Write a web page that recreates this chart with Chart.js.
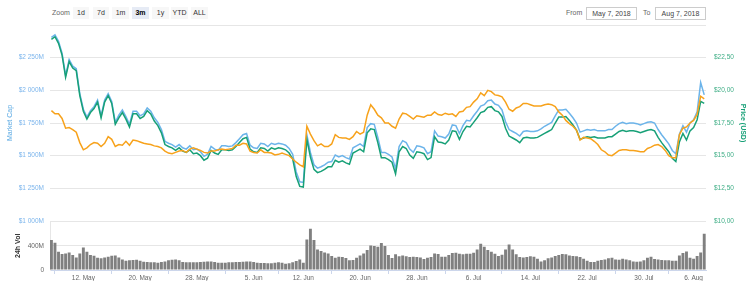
<!DOCTYPE html>
<html lang="en">
<head>
    <meta charset="UTF-8">
    <title>Market Cap / Price / 24h Vol</title>
    <style>
        body {
            margin: 0;
            background: #ffffff;
            font-family: "Liberation Sans", Arial, sans-serif;
        }
        #wrap {
            position: relative;
            width: 750px;
            height: 281px;
            overflow: hidden;
        }
        #wrap canvas {
            position: absolute;
            left: 0;
        }
        .lbl {
            position: absolute;
            top: 7px;
            height: 12px;
            line-height: 12px;
            font-size: 7px;
            color: #666;
        }
        .btn {
            position: absolute;
            top: 7px;
            height: 12px;
            line-height: 12px;
            font-size: 7px;
            color: #333;
            background: #f7f7f7;
            text-align: center;
        }
        .btn.on {
            background: #e6ebf5;
            color: #000;
            font-weight: bold;
        }
        .date {
            position: absolute;
            top: 7px;
            height: 11px;
            line-height: 11px;
            font-size: 7px;
            color: #444;
            border: 1px solid #cccccc;
            text-align: center;
        }
    </style>
    <script src="https://cdn.jsdelivr.net/npm/chart.js"></script>
</head>
<body>
<div id="wrap">
    <div class="lbl" style="left:52px">Zoom</div>
    <div class="btn" style="left:73px;width:16px">1d</div>
    <div class="btn" style="left:93px;width:16px">7d</div>
    <div class="btn" style="left:112px;width:17px">1m</div>
    <div class="btn on" style="left:132px;width:17px">3m</div>
    <div class="btn" style="left:152px;width:17px">1y</div>
    <div class="btn" style="left:171px;width:17px">YTD</div>
    <div class="btn" style="left:191px;width:17px">ALL</div>
    <div class="lbl" style="left:566px">From</div>
    <div class="date" style="left:586px;width:49px">May 7, 2018</div>
    <div class="lbl" style="left:643px">To</div>
    <div class="date" style="left:655px;width:49px">Aug 7, 2018</div>

    <canvas id="mainChart" width="750" height="226" style="top:0"></canvas>
    <canvas id="volChart" width="750" height="65" style="top:216px"></canvas>
</div>

<script>
    // one sample every half day, first sample 0.5 day after May 7, 2018
    var firstDay = 0.5;
    var stepDay = 0.5;

    // Price (USD)
    var priceUsd = [
        23.9, 24.1, 23.6, 22.7, 21.0, 22.2, 21.7, 21.5, 19.6, 18.4,
        17.8, 18.3, 18.6, 19.1, 17.9, 19.1, 19.6, 19.0, 17.4, 17.9,
        18.3, 17.8, 17.2, 18.2, 18.2, 17.85, 18.0, 18.45, 18.2, 17.65,
        17.3, 16.75, 15.85, 15.7, 15.6, 15.4, 15.6, 15.35, 15.25, 15.45,
        15.15, 15.2, 15.0, 14.65, 14.8, 15.4, 15.2, 15.1, 15.45, 15.45,
        15.4, 15.45, 15.7, 16.0, 16.3, 16.4, 15.5, 15.3, 15.25, 15.6,
        15.55, 15.35, 15.6, 15.5, 15.6, 15.55, 15.45, 15.2, 14.75, 13.4,
        12.65, 12.6, 16.25, 14.9, 13.95, 13.7, 13.8, 13.95, 14.15, 14.15,
        14.65, 14.5, 14.6, 14.45, 14.35, 15.2, 15.35, 15.5, 15.3, 16.75,
        17.05, 17.0, 16.0, 14.85, 14.85, 14.7, 14.5, 13.6, 15.3, 15.7,
        15.55, 15.05, 14.8, 15.3, 15.25, 15.15, 14.7, 14.85, 16.45, 16.05,
        16.0, 15.9, 16.2, 16.9, 16.85, 16.25, 16.85, 17.25, 17.2, 17.55,
        17.9, 18.3, 18.4, 18.7, 18.75, 18.45, 18.35, 18.0, 17.1, 16.5,
        16.35, 16.2, 16.0, 16.35, 16.4, 16.35, 16.35, 16.4, 16.55, 16.7,
        16.85, 17.0, 17.5, 17.95, 17.95, 18.0, 17.7, 17.35, 16.95, 16.25,
        16.35, 16.45, 16.4, 16.45, 16.35, 16.35, 16.35, 16.45, 16.45, 16.65,
        16.85, 16.95, 16.85, 16.9, 16.9, 16.85, 16.75, 16.85, 16.95, 17.0,
        16.9, 16.4, 16.0, 15.65, 15.3, 14.8, 14.55, 16.05, 16.7, 16.2,
        16.9, 17.15, 17.75, 19.15, 19.0
    ];

    // Market Cap ($M)
    var marketCap = [
        2405, 2425, 2375, 2285, 2115, 2235, 2185, 2165, 1975, 1855,
        1795, 1845, 1875, 1925, 1805, 1925, 1975, 1915, 1755, 1810,
        1850, 1800, 1740, 1840, 1840, 1805, 1820, 1865, 1840, 1790,
        1755, 1700, 1610, 1595, 1585, 1565, 1585, 1560, 1550, 1575,
        1545, 1550, 1530, 1495, 1510, 1570, 1550, 1540, 1575, 1575,
        1570, 1575, 1600, 1630, 1660, 1670, 1580, 1560, 1555, 1595,
        1590, 1570, 1595, 1585, 1595, 1590, 1580, 1555, 1510, 1375,
        1300, 1295, 1660, 1525, 1430, 1405, 1415, 1430, 1450, 1455,
        1505, 1490, 1500, 1485, 1475, 1560, 1575, 1590, 1570, 1715,
        1745, 1740, 1640, 1525, 1525, 1510, 1490, 1400, 1570, 1615,
        1600, 1550, 1525, 1575, 1570, 1560, 1515, 1530, 1690, 1650,
        1645, 1635, 1665, 1735, 1730, 1670, 1730, 1770, 1765, 1805,
        1840, 1880, 1890, 1920, 1925, 1895, 1885, 1850, 1760, 1700,
        1685, 1670, 1650, 1685, 1690, 1685, 1685, 1690, 1705, 1725,
        1740, 1755, 1805, 1850, 1850, 1855, 1825, 1790, 1750, 1680,
        1690, 1700, 1695, 1700, 1690, 1690, 1690, 1700, 1700, 1725,
        1745, 1755, 1745, 1750, 1750, 1745, 1735, 1745, 1755, 1760,
        1750, 1700, 1660, 1625, 1590, 1540, 1515, 1665, 1730, 1680,
        1750, 1775, 1835, 2060, 1965
    ];

    // Price (BTC), drawn on its own hidden axis
    var priceBtc = [
        18.45, 18.2, 18.2, 17.85, 17.1, 17.15, 17.0, 16.8, 16.0, 15.45,
        15.6, 15.85, 16.0, 15.95, 15.7, 15.95, 16.45, 16.25, 15.7, 15.85,
        15.8, 16.1, 15.8, 16.2, 16.15, 16.05, 15.95, 15.9, 15.85, 15.75,
        15.7, 15.6, 15.35, 15.2, 15.15, 15.25, 15.35, 15.4, 15.25, 15.5,
        15.6, 15.5, 15.4, 15.25, 15.2, 15.35, 15.35, 15.45, 15.5, 15.45,
        15.5, 15.55, 15.8, 15.8, 15.95, 15.9, 15.35, 15.25, 15.2, 15.45,
        15.25, 15.25, 15.2, 15.05, 15.1, 15.2, 15.1, 15.0, 14.75, 14.5,
        14.3, 14.15, 17.25, 16.65, 16.15, 15.75, 15.9, 15.7, 15.7, 15.9,
        16.6, 16.4, 16.35, 16.35, 16.25, 16.45, 16.85, 16.65, 16.8, 18.1,
        18.9, 18.55, 18.1, 17.9, 17.5, 17.5, 17.25, 17.1, 17.8, 18.25,
        18.2, 18.0, 17.8, 18.05, 18.0, 17.95, 18.1, 18.1, 18.35, 18.15,
        18.1, 18.25, 18.15, 18.2, 18.0, 18.35, 18.4, 18.7, 18.75, 19.1,
        19.35, 19.8, 19.6, 20.0, 19.9, 19.65, 19.6, 19.5, 19.1, 18.55,
        18.4, 18.65, 18.75, 19.0, 19.0, 18.9, 18.8, 18.8, 18.8, 18.9,
        18.95, 18.9, 18.75, 18.35, 18.1, 17.7, 17.45, 17.25, 16.95, 16.2,
        16.4, 16.35, 16.3, 16.1, 15.85, 15.45, 15.3, 15.05, 15.0, 15.2,
        15.4, 15.45, 15.45, 15.4, 15.4, 15.35, 15.3, 15.3, 15.55, 15.65,
        15.8, 15.85, 15.7, 15.4, 15.0, 14.85, 14.85, 16.6, 17.1, 17.2,
        17.5, 17.7, 18.15, 19.55, 19.35
    ];

    // 24h volume ($M)
    var volume = [
        493, 449, 301, 263, 274, 290, 247, 208, 274, 373,
        301, 247, 236, 203, 192, 208, 219, 236, 241, 208,
        175, 153, 159, 164, 170, 153, 137, 132, 126, 126,
        121, 132, 142, 159, 170, 175, 159, 132, 126, 126,
        126, 126, 132, 137, 142, 142, 132, 121, 121, 121,
        126, 126, 132, 132, 137, 142, 142, 132, 121, 115,
        115, 110, 110, 121, 126, 121, 104, 110, 126, 148,
        175, 121, 504, 680, 493, 340, 312, 290, 274, 230,
        203, 219, 214, 197, 159, 164, 203, 241, 274, 329,
        406, 395, 384, 444, 395, 247, 197, 258, 225, 241,
        225, 214, 219, 214, 208, 181, 203, 214, 274, 263,
        219, 219, 247, 279, 285, 269, 258, 269, 269, 285,
        340, 433, 384, 329, 301, 269, 230, 252, 340, 422,
        340, 258, 214, 208, 214, 225, 219, 186, 142, 159,
        192, 208, 230, 247, 263, 258, 241, 230, 225, 214,
        186, 153, 132, 132, 153, 164, 175, 192, 203, 175,
        170, 186, 175, 159, 142, 137, 142, 159, 203, 219,
        181, 175, 164, 159, 159, 153, 153, 241, 279, 307,
        203, 186, 230, 290, 600
    ];

    // x axis labels (days after May 7, 2018)
    var tickDays = [5, 13, 21, 29, 36, 44, 52, 60, 68, 76, 84, 91];
    var tickLabels = ['12. May', '20. May', '28. May', '5. Jun', '12. Jun', '20. Jun',
                      '28. Jun', '6. Jul', '14. Jul', '22. Jul', '30. Jul', '6. Aug'];

    var xMin = 0.3;
    var xMax = 92.75;
    var fontFamily = '"Liberation Sans", Arial, sans-serif';

    function toPoints(values) {
        return values.map(function (v, i) {
            return { x: firstDay + i * stepDay, y: v };
        });
    }

    function fixWidth(w) {
        return function (scale) {
            scale.width = w;
            scale.paddingTop = 0;
            scale.paddingBottom = 0;
        };
    }

    function capLabel(v) {
        if (v >= 2500) return '';
        var s = String(v);
        return '$' + s.slice(0, s.length - 3) + ' ' + s.slice(-3) + 'M';
    }

    function priceLabel(v) {
        if (v >= 25) return '';
        return '$' + v.toFixed(2).replace('.', ',');
    }

    new Chart(document.getElementById('mainChart'), {
        type: 'line',
        data: {
            datasets: [
                {
                    label: 'Price (BTC)',
                    data: toPoints(priceBtc),
                    yAxisID: 'yBtc',
                    borderColor: '#f7a21b',
                    order: 0
                },
                {
                    label: 'Price (USD)',
                    data: toPoints(priceUsd),
                    yAxisID: 'yPrice',
                    borderColor: '#17a077',
                    order: 1
                },
                {
                    label: 'Market Cap',
                    data: toPoints(marketCap),
                    yAxisID: 'yCap',
                    borderColor: '#6cb4ea',
                    order: 2
                }
            ]
        },
        options: {
            responsive: false,
            animation: false,
            layout: { padding: { top: 25, bottom: 5, left: 0, right: 0 } },
            plugins: { legend: { display: false }, tooltip: { enabled: false } },
            elements: {
                point: { radius: 0 },
                line: { borderWidth: 1.5, tension: 0, fill: false }
            },
            scales: {
                x: { type: 'linear', min: xMin, max: xMax, display: false },
                yCap: {
                    position: 'left',
                    min: 1000,
                    max: 2500,
                    afterFit: fixWidth(50),
                    ticks: {
                        stepSize: 250,
                        padding: 6,
                        color: '#7cb5ec',
                        font: { family: fontFamily, size: 6.5 },
                        callback: capLabel
                    },
                    grid: { color: '#e6e6e6', drawTicks: false },
                    border: { display: false },
                    title: {
                        display: true,
                        text: 'Market Cap',
                        color: '#5aa9e3',
                        font: { family: fontFamily, size: 7 },
                        padding: { top: 5.5, bottom: 0 }
                    }
                },
                yPrice: {
                    position: 'right',
                    min: 10,
                    max: 25,
                    afterFit: fixWidth(44),
                    ticks: {
                        stepSize: 2.5,
                        padding: 8,
                        color: '#3fae86',
                        font: { family: fontFamily, size: 6.5 },
                        callback: priceLabel
                    },
                    grid: { display: false, drawTicks: false },
                    border: { display: false },
                    title: {
                        display: true,
                        text: 'Price (USD)',
                        color: '#17a077',
                        font: { family: fontFamily, size: 7, weight: 'bold' },
                        padding: { top: 2.8, bottom: 0 }
                    }
                },
                yBtc: { display: false, min: 10, max: 25 }
            }
        }
    });

    new Chart(document.getElementById('volChart'), {
        type: 'bar',
        data: {
            datasets: [{
                label: '24h Vol',
                data: toPoints(volume),
                yAxisID: 'yVol',
                backgroundColor: '#808080',
                barPercentage: 1,
                categoryPercentage: 0.82
            }]
        },
        options: {
            responsive: false,
            animation: false,
            layout: { padding: { top: 5.5, bottom: 0, left: 0, right: 44 } },
            plugins: { legend: { display: false }, tooltip: { enabled: false } },
            scales: {
                x: {
                    type: 'linear',
                    min: xMin,
                    max: xMax,
                    offset: false,
                    afterBuildTicks: function (scale) {
                        scale.ticks = tickDays.map(function (d) { return { value: d }; });
                    },
                    afterFit: function (scale) {
                        scale.height = 11;
                        scale.paddingLeft = 0;
                        scale.paddingRight = 0;
                    },
                    ticks: {
                        autoSkip: false,
                        maxRotation: 0,
                        padding: 0,
                        color: '#666666',
                        font: { family: fontFamily, size: 6.5 },
                        callback: function (v) {
                            var i = tickDays.indexOf(v);
                            return i >= 0 ? tickLabels[i] : '';
                        }
                    },
                    grid: { drawOnChartArea: false, color: '#ccd6eb', tickLength: 4 },
                    border: { color: '#ccd6eb' }
                },
                yVol: {
                    position: 'left',
                    min: 0,
                    max: 800,
                    afterFit: fixWidth(50),
                    ticks: {
                        stepSize: 400,
                        padding: 6,
                        color: '#666666',
                        font: { family: fontFamily, size: 6.5 },
                        callback: function (v) {
                            if (v === 0) return '0';
                            if (v === 400) return '400M';
                            return '';
                        }
                    },
                    grid: { color: '#e6e6e6', drawTicks: false },
                    border: { display: true, color: '#e6e6e6' },
                    title: {
                        display: true,
                        text: '24h Vol',
                        color: '#333333',
                        font: { family: fontFamily, size: 7, weight: 'bold' },
                        padding: { top: 13.6, bottom: 0 }
                    }
                }
            }
        }
    });
</script>
</body>
</html>
